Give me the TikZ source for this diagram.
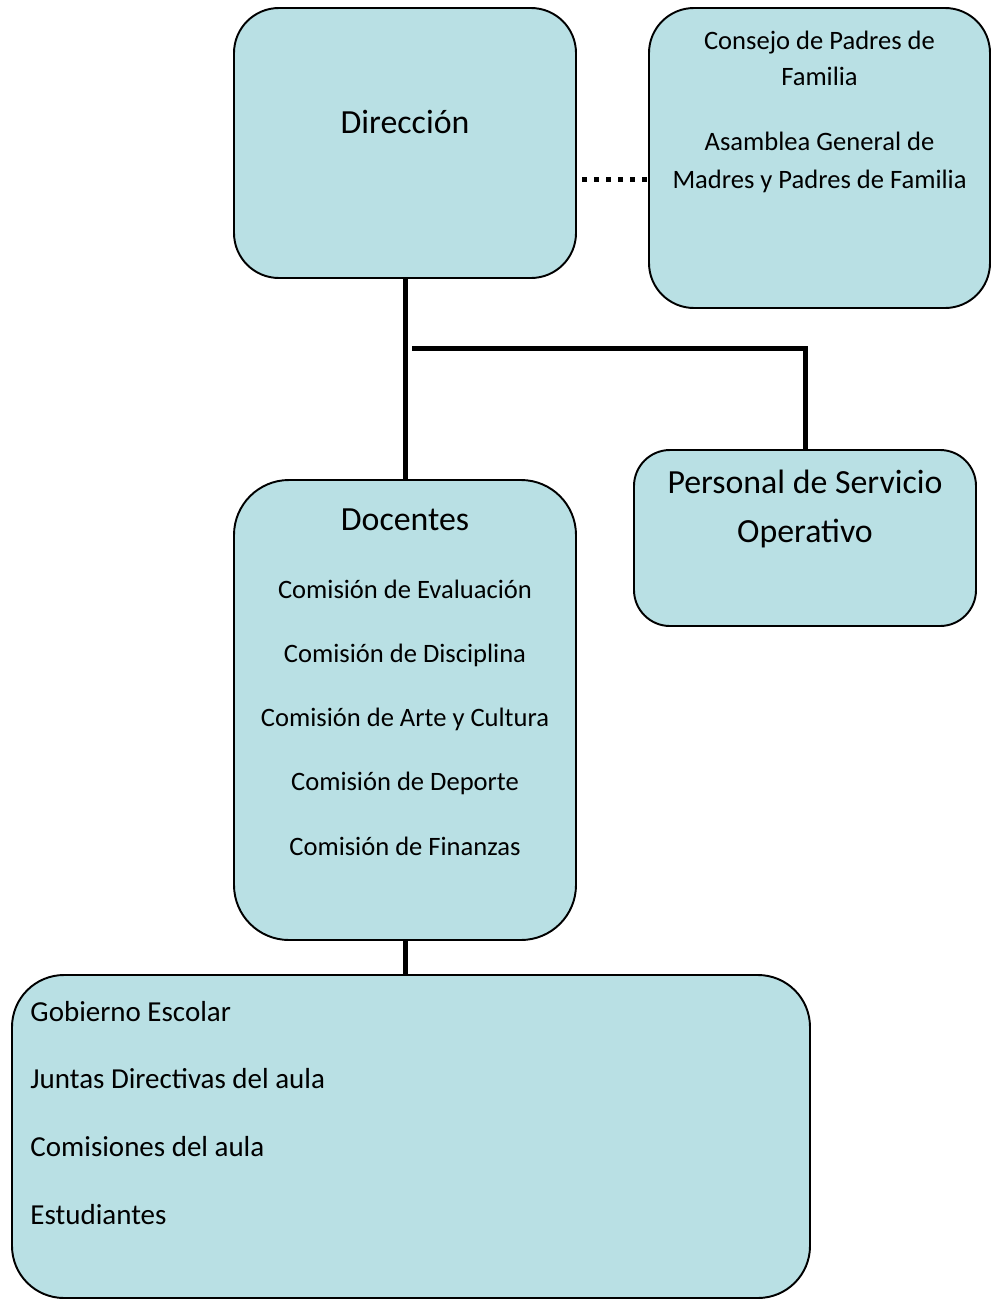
\documentclass[tikz,border=0pt]{standalone}
\usepackage{fontspec}
\setmainfont{Carlito}
\usepackage{tikz}

\definecolor{boxfill}{RGB}{185,224,228}
\newcommand{\pu}{0.414pt}

\begin{document}
\begin{tikzpicture}[x=\pu,y=-\pu,
  box/.style={draw=black,line width=0.8pt,fill=boxfill,inner sep=0pt},
  bigtxt/.style={font=\fontsize{14}{17}\selectfont,anchor=base,inner sep=0pt},
  smalltxt/.style={font=\fontsize{11}{13}\selectfont,anchor=base,inner sep=0pt},
  listtxt/.style={font=\fontsize{12}{14}\selectfont,anchor=base west,inner sep=0pt},
  link/.style={line width=2.07pt}]
\useasboundingbox (0,0) rectangle (992,1299);
% boxes
\node[box,rounded corners=45*\pu,minimum width=342*\pu,minimum height=270*\pu] (dir) at (405,143) {};
\node[box,rounded corners=45*\pu,minimum width=341*\pu,minimum height=300*\pu] (cons) at (819.5,158) {};
\node[box,rounded corners=36*\pu,minimum width=342*\pu,minimum height=176*\pu] (pers) at (805,538) {};
\node[box,rounded corners=55*\pu,minimum width=342*\pu,minimum height=460*\pu] (doc) at (405,710) {};
\node[box,rounded corners=52*\pu,minimum width=798*\pu,minimum height=323*\pu] (low) at (411,1136.5) {};
% texts
\node[bigtxt] (dirT) at (405,133) {Dirección};
\node[smalltxt] (consA) at (819.5,49) {Consejo de Padres de};
\node[smalltxt] (consB) at (819.5,85) {Familia};
\node[smalltxt] (consC) at (819.5,150) {Asamblea General de};
\node[smalltxt] (consD) at (819.5,188) {Madres y Padres\ de Familia};
\node[bigtxt] (persA) at (805,493) {Personal de Servicio};
\node[bigtxt] (persB) at (805,542) {Operativo};
\node[bigtxt] (docT) at (405,530) {Docentes};
\node[smalltxt] (comA) at (405,598) {Comisión de Evaluación};
\node[smalltxt] (comB) at (405,662) {Comisión de Disciplina};
\node[smalltxt] (comC) at (405,726) {Comisión de Arte y Cultura};
\node[smalltxt] (comD) at (405,790) {Comisión de Deporte};
\node[smalltxt] (comE) at (405,855) {Comisión de Finanzas};
\node[listtxt] (lowA) at (30,1021) {Gobierno Escolar};
\node[listtxt] (lowB) at (30,1088) {Juntas Directivas del aula};
\node[listtxt] (lowC) at (30,1156) {Comisiones del aula};
\node[listtxt] (lowD) at (30,1224) {Estudiantes};
% connectors
\coordinate (hstart) at (412,348);
\coordinate (dotstart) at (582,179);
\draw[link] (dir.south) -- (doc.north);
\draw[link] (hstart) -| (pers.north);
\draw[link] (doc.south) -- (doc.south |- low.north);
\draw[link,dash pattern=on 2.07pt off 2.9pt] (dotstart) -- (dotstart -| cons.west);
\end{tikzpicture}
\end{document}
